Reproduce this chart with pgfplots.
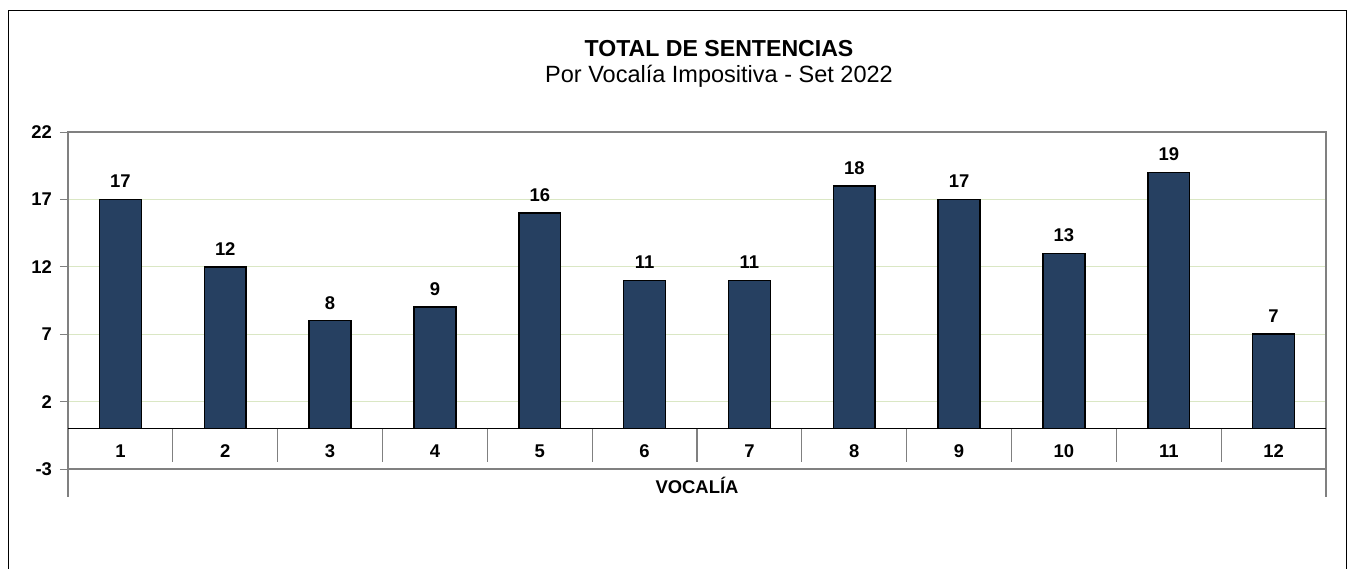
\documentclass[border=0pt]{standalone}
\usepackage{fontspec}
\setmainfont{Liberation Sans}
\usepackage{pgfplots}
\pgfplotsset{compat=1.18}
\definecolor{barblue}{RGB}{38,64,97}
\definecolor{gridgreen}{RGB}{218,231,196}
\definecolor{axgray}{RGB}{128,128,128}
\begin{document}
\begin{tikzpicture}
\useasboundingbox (0,0) rectangle (1351bp,-569bp);
\draw[black, line width=1.2bp] (8.5bp,-600bp) -- (8.5bp,-10.5bp) -- (1346.5bp,-10.5bp) -- (1346.5bp,-600bp);
\node[anchor=base, inner sep=0pt, font=\fontsize{23.2}{26}\selectfont\bfseries] at (719bp,-56bp) {TOTAL DE SENTENCIAS};
\node[anchor=base, inner sep=0pt, font=\fontsize{23.6}{26}\selectfont] at (719bp,-82bp) {Por Vocalía Impositiva - Set 2022};
\begin{axis}[
  at={(68bp,-469bp)}, anchor=south west,
  scale only axis, width=1258bp, height=337bp,
  xmin=0.5, xmax=12.5, ymin=-3, ymax=22,
  ytick={-3,2,7,12,17,22},
  ytick pos=left,
  xtick={1,...,12},
  xticklabels={1,2,3,4,5,6,7,8,9,10,11,12},
  /pgf/number format/assume math mode=true,
  ticklabel style={font=\fontsize{18.5}{21}\selectfont\bfseries},
  yticklabel style={xshift=-4.5bp},
  xticklabel style={anchor=center, yshift=26bp},
  xtick style={draw=none},
  ytick style={draw=axgray, line width=1bp},
  tick align=outside, major tick length=8bp,
  ymajorgrids, grid style={draw=gridgreen, line width=1bp},
  axis line style={draw=axgray, line width=1.5bp},
  clip=false,
  ybar, bar width=0.4,
  nodes near coords,
  nodes near coords style={font=\fontsize{18.5}{21}\selectfont\bfseries, anchor=center, yshift=18bp},
  xlabel={VOCALÍA},
  xlabel style={at={(axis description cs:0.5,0)}, anchor=center, yshift=-16bp, font=\fontsize{18.5}{21}\selectfont\bfseries},
]
\addplot[fill=barblue, draw=black, line width=1.5bp] coordinates {
(1,17) (2,12) (3,8) (4,9) (5,16) (6,11) (7,11) (8,18) (9,17) (10,13) (11,19) (12,7)
};
\draw[black, line width=1.2bp] (axis cs:0.5,0) -- (axis cs:12.5,0);
\pgfplotsinvokeforeach{1.5,2.5,3.5,4.5,5.5,6.5,7.5,8.5,9.5,10.5,11.5}{
  \draw[axgray, line width=1.2bp] (axis cs:#1,0) -- (axis cs:#1,-2.5);
}
\draw[axgray, line width=1.2bp] (axis cs:0.5,-3) -- (axis cs:0.5,-5.1);
\draw[axgray, line width=1.2bp] (axis cs:12.5,-3) -- (axis cs:12.5,-5.1);
\end{axis}
\end{tikzpicture}
\end{document}
